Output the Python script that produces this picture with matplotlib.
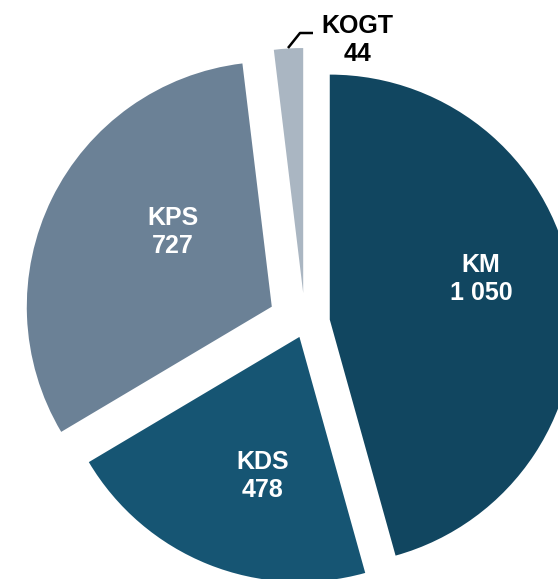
import matplotlib.pyplot as plt
import numpy as np

# data
labels = ['KM', 'KDS', 'KPS', 'KOGT']
values = [1050, 478, 727, 44]
value_text = ['1 050', '478', '727', '44']
colors = ['#114660', '#165573', '#6b8196', '#aab6c2']

W, H = 558, 579
fig = plt.figure(figsize=(W / 100, H / 100), dpi=100)
ax = fig.add_axes([0, 0, 1, 1])

# pie in pixel coordinates (y up), clipped on right and bottom like the reference
cx, cy = 305, H - 323
r = 245
# explode is in data units here (pixels), not a fraction of radius
offsets = [25, 15, 37, 30]
ax.pie(values, colors=colors, startangle=90, counterclock=False,
       explode=offsets, center=(cx, cy), radius=r,
       wedgeprops=dict(linewidth=0))

ax.set_xlim(0, W)
ax.set_ylim(0, H)
ax.set_aspect('equal')
ax.axis('off')

font = dict(family=['Liberation Sans', 'DejaVu Sans'], fontsize=18,
            fontweight='bold', ha='center', va='center', linespacing=1.2)

# labels inside slices (pixel positions, y from top)
pos = {'KM': (481, 279), 'KDS': (263, 476), 'KPS': (173, 232)}
for lab, val in zip(labels, value_text):
    if lab in pos:
        x, y = pos[lab]
        ax.text(x, H - y, lab + '\n' + val, color='white', **font)

# small slice label outside with leader line
ax.text(357, H - 40, labels[3] + '\n' + value_text[3], color='black', **font)
ax.plot([288, 300, 313], [H - 48, H - 33, H - 33], color='black', lw=1.8,
        solid_capstyle='butt')

plt.savefig('out.png', dpi=100)
